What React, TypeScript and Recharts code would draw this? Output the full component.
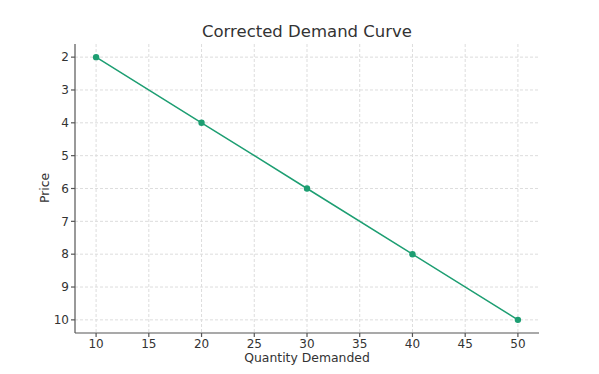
import React from 'react';
import {
    LineChart,
    Line,
    XAxis,
    YAxis,
    CartesianGrid
} from 'recharts';

const quantities = [10, 20, 30, 40, 50];
const prices = [2, 4, 6, 8, 10];
const xTicks = [10, 15, 20, 25, 30, 35, 40, 45, 50];
const yTicks = [2, 3, 4, 5, 6, 7, 8, 9, 10];

const FONT = '"DejaVu Sans", sans-serif';
const LINE_COLOR = '#1d9e72';
const AXIS_COLOR = '#555555';
const TEXT_COLOR = '#333333';

export default function App() {
    const chartData = quantities.map((q, i) => ({ quantity: q, price: prices[i] }));

    return (
        <div style={{ position: 'absolute', left: 0, top: 0, width: 599, height: 374, background: '#fff', fontFamily: FONT }}>
            <LineChart
                width={599}
                height={374}
                data={chartData}
                margin={{ top: 44, right: 60, bottom: 0, left: 0 }}
            >
                <CartesianGrid
                    stroke="#dddddd"
                    strokeDasharray="3 2"
                    horizontalValues={yTicks}
                    verticalValues={xTicks}
                />
                <XAxis
                    dataKey="quantity"
                    type="number"
                    domain={[8, 52]}
                    ticks={xTicks}
                    allowDataOverflow
                    height={41}
                    stroke={AXIS_COLOR}
                    strokeWidth={1.2}
                    tickSize={4}
                    tick={{ fill: TEXT_COLOR, fontSize: 12, fontFamily: FONT }}
                />
                <YAxis
                    dataKey="price"
                    type="number"
                    reversed
                    domain={[1.6, 10.4]}
                    ticks={yTicks}
                    allowDataOverflow
                    width={75}
                    stroke={AXIS_COLOR}
                    strokeWidth={1.2}
                    tickSize={4}
                    tick={{ fill: TEXT_COLOR, fontSize: 12, fontFamily: FONT }}
                />
                <Line
                    dataKey="price"
                    stroke={LINE_COLOR}
                    strokeWidth={1.5}
                    dot={{ r: 3.2, fill: LINE_COLOR, stroke: LINE_COLOR, strokeWidth: 0 }}
                    isAnimationActive={false}
                />
            </LineChart>
            <div style={{ position: 'absolute', left: 0, width: 614, top: 21, textAlign: 'center', fontSize: 16.5, color: TEXT_COLOR, lineHeight: '22px' }}>
                Corrected Demand Curve
            </div>
            <div style={{ position: 'absolute', left: 75, width: 464, top: 350, textAlign: 'center', fontSize: 12.4, color: TEXT_COLOR, lineHeight: '16px' }}>
                Quantity Demanded
            </div>
            <div style={{ position: 'absolute', left: 45, top: 188, width: 0, height: 0 }}>
                <div style={{ position: 'absolute', transform: 'translate(-50%, -50%) rotate(-90deg)', fontSize: 12.4, color: TEXT_COLOR, whiteSpace: 'nowrap', lineHeight: '16px' }}>
                    Price
                </div>
            </div>
        </div>
    );
}
